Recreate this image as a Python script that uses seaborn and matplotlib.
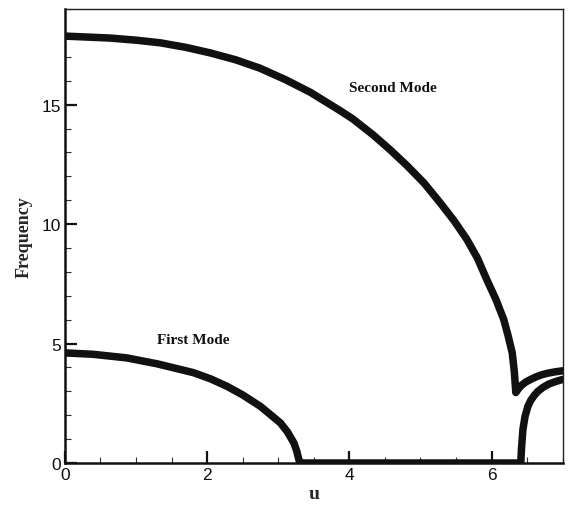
import matplotlib
matplotlib.use("Agg")
import matplotlib.pyplot as plt
import seaborn as sns
import pandas as pd
from matplotlib.ticker import MultipleLocator

# Second mode: falling branch down to the cusp, then the short rising branch
u_second = [0.0, 0.63, 1.0, 1.34, 1.7, 2.04, 2.4, 2.74, 3.1, 3.45, 3.87, 4.05,
            4.34, 4.57, 4.81, 5.05, 5.28, 5.47, 5.65, 5.8, 5.93, 6.06, 6.17,
            6.23, 6.29, 6.32, 6.34,
            6.38, 6.42, 6.48, 6.55, 6.62, 6.7, 6.79, 6.9, 7.0]
f_second = [17.87, 17.79, 17.70, 17.59, 17.40, 17.17, 16.88, 16.53, 16.05, 15.52,
            14.75, 14.40, 13.72, 13.12, 12.45, 11.72, 10.88, 10.15, 9.37, 8.58,
            7.69, 6.85, 6.01, 5.35, 4.61, 3.80, 2.95,
            3.12, 3.25, 3.39, 3.50, 3.60, 3.69, 3.76, 3.82, 3.86]

# First mode: decays to zero, stays at zero, then reappears near u = 6.4
u_first = [0.0, 0.4, 0.87, 1.3, 1.81, 2.05, 2.28, 2.5, 2.75, 2.9, 3.03, 3.13,
           3.22, 3.26, 3.29, 3.31,
           6.41, 6.42, 6.44, 6.47, 6.51, 6.55, 6.6, 6.65, 6.72, 6.8, 6.9, 7.0]
f_first = [4.61, 4.55, 4.40, 4.15, 3.78, 3.52, 3.21, 2.85, 2.37, 2.0, 1.68, 1.30,
           0.84, 0.50, 0.14, 0.0,
           0.0, 0.6, 1.4, 1.95, 2.37, 2.62, 2.83, 3.0, 3.16, 3.30, 3.41, 3.50]

mode_labels = ["First Mode", "Second Mode"]
label_pos = [(1.80, 5.17), (4.61, 15.70)]

x_ticks = [0, 2, 4, 6]
y_ticks = [0, 5, 10, 15]

sns.set_theme(style="white")
plt.rcParams["font.family"] = ["Liberation Sans", "DejaVu Sans"]

fig = plt.figure(figsize=(5.69, 5.06), dpi=100)
ax = fig.add_axes([0.114, 0.083, 0.875, 0.897])

line_kw = dict(color="#111111", linewidth=5.4, solid_capstyle="round",
               solid_joinstyle="round", sort=False, estimator=None, ax=ax)
sns.lineplot(data=pd.DataFrame({"u": u_second, "f": f_second}), x="u", y="f", **line_kw)
sns.lineplot(data=pd.DataFrame({"u": u_first, "f": f_first}), x="u", y="f", **line_kw)

ax.set_xlim(0, 7)
ax.set_ylim(0, 19)
ax.set_xticks(x_ticks)
ax.set_yticks(y_ticks)
ax.xaxis.set_minor_locator(MultipleLocator(0.5))
ax.yaxis.set_minor_locator(MultipleLocator(1))
ax.tick_params(which="major", direction="in", length=8.5, width=1.6,
               color="#111111", labelsize=12.5, labelcolor="#111111", pad=3,
               bottom=True, left=True, top=False, right=False)
ax.tick_params(which="minor", direction="in", length=4.3, width=0.8,
               color="#333333", bottom=True, left=True, top=False, right=False)

for side in ["left", "bottom"]:
    ax.spines[side].set_linewidth(1.8)
    ax.spines[side].set_color("#111111")
for side in ["top", "right"]:
    ax.spines[side].set_linewidth(1.0)
    ax.spines[side].set_color("#222222")

serif = ["Liberation Serif", "DejaVu Serif"]
ax.set_xlabel("u", fontsize=14, fontweight="bold", family=serif, labelpad=2)
ax.set_ylabel("Frequency", fontsize=13, fontweight="bold", family=serif, labelpad=6)

for text, (tx, ty) in zip(mode_labels, label_pos):
    ax.text(tx, ty, text, ha="center", va="center", fontsize=11,
            fontweight="bold", family=serif, color="#111111")

fig.savefig("out.png", dpi=100, facecolor="white")
